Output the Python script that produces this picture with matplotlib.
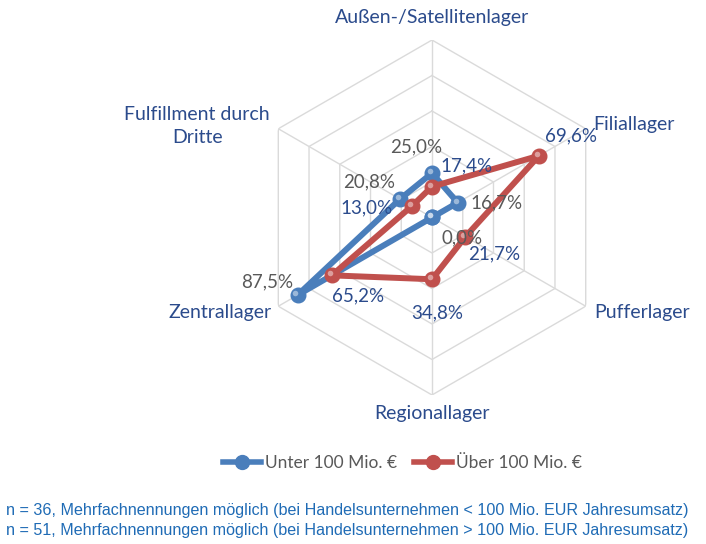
import numpy as np
import matplotlib.pyplot as plt
from matplotlib.transforms import offset_copy

plt.rcParams['font.family'] = ['Lato', 'DejaVu Sans']

# categories (clockwise from top)
categories = ['Außen-/Satellitenlager', 'Filiallager', 'Pufferlager',
              'Regionallager', 'Zentrallager', 'Fulfillment durch\nDritte']
unter_100 = [25.0, 16.7, 0.0, 0.0, 87.5, 20.8]
ueber_100 = [17.4, 69.6, 21.7, 34.8, 65.2, 13.0]
series_names = ['Unter 100 Mio. €', 'Über 100 Mio. €']
rings = [20, 40, 60, 80, 100]
footer = ['n = 36, Mehrfachnennungen möglich (bei Handelsunternehmen < 100 Mio. EUR Jahresumsatz)',
          'n = 51, Mehrfachnennungen möglich (bei Handelsunternehmen > 100 Mio. EUR Jahresumsatz)']

blue = '#4A7EBB'
red = '#C0504D'
label_blue = '#2B4B8C'
grey = '#595959'

# angles: top first, then clockwise
theta = np.deg2rad(90 - 60 * np.arange(len(categories)))

fig = plt.figure(figsize=(7.06, 5.44), dpi=100)
ax = fig.add_axes([0.3605, 0.2739, 0.5028, 0.6526], projection='polar')
ax.set_ylim(0, 100)
ax.set_xticks([])
ax.set_yticks([])
ax.grid(False)
ax.spines['polar'].set_visible(False)
ax.set_facecolor('none')

# hexagonal grid
closed = np.append(theta, theta[0])
for r in rings:
    ax.plot(closed, [r] * len(closed), color='#DADADA', lw=1.0, zorder=1)
for t in theta:
    ax.plot([t, t], [0, 100], color='#DADADA', lw=1.0, zorder=1)


def draw_series(vals, color, z):
    v = np.append(vals, vals[0])
    ax.plot(closed, v, color=color, lw=4.3, solid_joinstyle='round', zorder=z)
    ax.plot(theta, vals, 'o', ms=10.5, color=color, mec=color, zorder=z + 0.1)
    shine = offset_copy(ax.transData, fig=fig, x=-1.5, y=1.5, units='points')
    ax.plot(theta, vals, 'o', ms=4, color='white', alpha=0.45, mec='none',
            transform=shine, zorder=z + 0.2)


draw_series(unter_100, blue, 3)
draw_series(ueber_100, red, 4)


def pct(v):
    return f'{v:.1f}%'.replace('.', ',')


# data labels (offsets in points)
blue_offsets = [(-11.5, 18.7), (28, 0), (21.5, -15), None, (-22, 9.5), (-22, 12)]
red_offsets = [(25, 15), (23, 14), (21, -12), (3.5, -24), (19, -15), (-33, -1.5)]
for i, v in enumerate(unter_100):
    if blue_offsets[i] is None:
        continue
    ax.annotate(pct(v), (theta[i], v), xytext=blue_offsets[i], textcoords='offset points',
                ha='center', va='center', fontsize=13.5, color=grey, zorder=6)
for i, v in enumerate(ueber_100):
    ax.annotate(pct(v), (theta[i], v), xytext=red_offsets[i], textcoords='offset points',
                ha='center', va='center', fontsize=13.5, color=label_blue, zorder=6)

# category labels
cat_pos = [(90, 112.4, 'center'), (30.1, 105, 'left'), (-30.3, 105.6, 'left'),
           (-90, 110.5, 'center'), (210.6, 104.7, 'right'), (158.7, 142, 'center')]
for name, (a, r, ha) in zip(categories, cat_pos):
    ax.text(np.deg2rad(a), r, name, ha=ha, va='center', fontsize=14,
            color=label_blue, linespacing=1.45)

# legend
handles = [plt.Line2D([], [], color=blue, lw=4, marker='o', ms=10),
           plt.Line2D([], [], color=red, lw=4, marker='o', ms=10)]
fig.legend(handles, series_names, loc='center', bbox_to_anchor=(0.570, 0.149),
           ncol=2, frameon=False, fontsize=12.5, labelcolor=grey,
           handlelength=2.2, handletextpad=0.2, columnspacing=1.0)

# footer
for k, line in enumerate(footer):
    fig.text(0.009, 1 - (510 + 20 * k) / 544, line, ha='left', va='center',
             fontsize=11.6, color='#1F6BB5', family='Liberation Sans')

fig.savefig('out.png', dpi=100)
